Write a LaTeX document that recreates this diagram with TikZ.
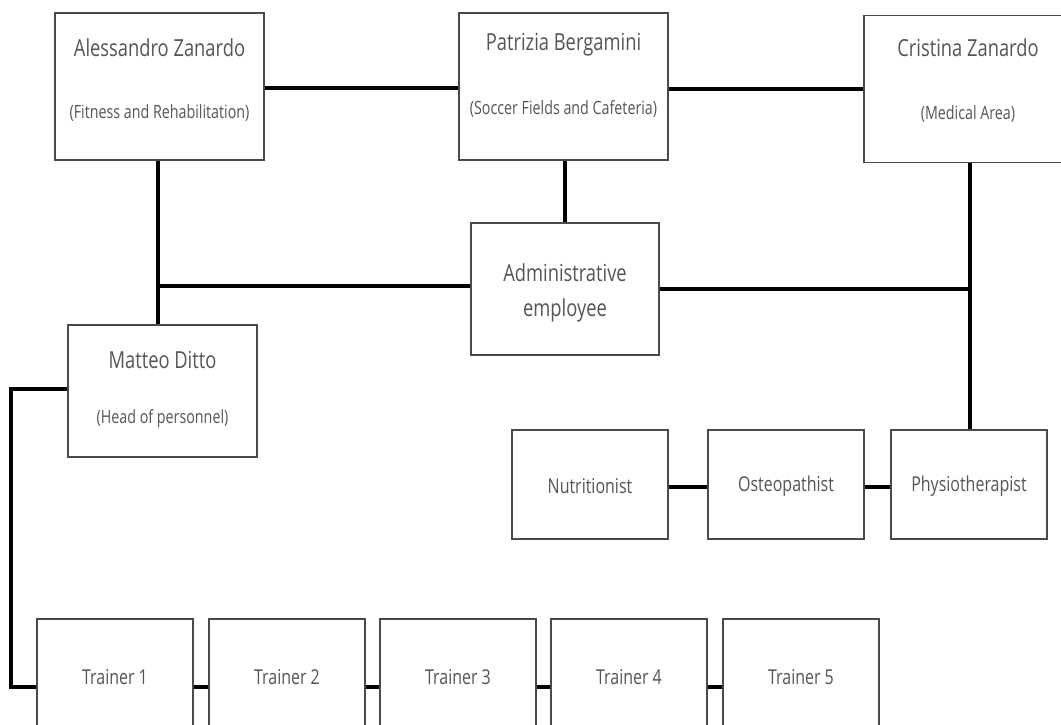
\documentclass[tikz,border=0pt]{standalone}
\usepackage{fontspec}
\setmainfont[FakeStretch=0.78]{Open Sans}
\usetikzlibrary{calc}
\definecolor{txtgray}{HTML}{555555}
\definecolor{boxgray}{HTML}{4A4A4A}
\tikzset{
  orgbox/.style={draw=boxgray, line width=1.8pt, fill=white, inner sep=0pt},
  bigbox/.style={orgbox, minimum width=209pt, minimum height=147pt},
  midbox/.style={orgbox, minimum width=188.5pt, minimum height=132pt},
  smallbox/.style={orgbox, minimum width=156pt, minimum height=109pt},
  trainbox/.style={orgbox, minimum width=156pt, minimum height=150pt},
  nmtxt/.style={text=txtgray, inner sep=0pt, font=\fontsize{23.5}{27}\selectfont},
  subtxt/.style={text=txtgray, inner sep=0pt, font=\fontsize{18.3}{21}\selectfont},
  smtxt/.style={text=txtgray, inner sep=0pt, font=\fontsize{20.5}{24}\selectfont},
  link/.style={line width=3.6pt, black},
}
\begin{document}
\begin{tikzpicture}[x=1pt, y=-1pt]
\useasboundingbox (0,0) rectangle (1061,724);
\clip (0,0) rectangle (1061,724);
\fill[white] (0,0) rectangle (1061,724);

% top row
\node[bigbox] (A) at (159.5,86.5) {};
\node[bigbox] (P) at (563.5,86.5) {};
\node[bigbox] (C) at (968.5,89) {};
\node[nmtxt] (An) at (159.5,48) {Alessandro Zanardo};
\node[subtxt]  (As) at (159.5,113) {(Fitness and Rehabilitation)};
\node[nmtxt] (Pn) at (563.5,45) {Patrizia Bergamini};
\node[subtxt]  (Ps) at (563.5,109) {(Soccer Fields and Cafeteria)};
\node[nmtxt] (Cn) at (968,48) {Cristina Zanardo};
\node[subtxt]  (Cs) at (968,114) {(Medical Area)};

% admin
\node[midbox] (Ad) at (565,289) {};
\node[nmtxt] (Ad1) at (565,273) {Administrative};
\node[nmtxt] (Ad2) at (565,310) {employee};

% Matteo
\node[midbox] (M) at (162.5,391) {};
\node[nmtxt] (Mn) at (162.5,360) {Matteo Ditto};
\node[subtxt]  (Ms) at (162.5,419) {(Head of personnel)};

% medical staff
\node[smallbox] (N)  at (590,484.5) {};
\node[smallbox] (O)  at (786,484.5) {};
\node[smallbox] (Ph) at (969,484.5) {};
\node[smtxt] (Nt)  at (590,486) {Nutritionist};
\node[smtxt] (Ot)  at (786,486) {Osteopathist};
\node[smtxt] (Pht) at (969,486) {Physiotherapist};

% trainers
\foreach \i/\x in {1/115,2/287,3/458,4/629,5/801}{
  \node[trainbox] (T\i) at (\x,694) {};
  \node[smtxt] (T\i t) at (\x,677) {Trainer \i};
}

% connectors
\coordinate (apy) at (0,88);
\coordinate (pcy) at (0,89);
\draw[link] (A.east |- apy) -- (P.west |- apy);
\draw[link] (P.east |- pcy) -- (C.west |- pcy);
\draw[link] (P.south -| Ad.north) -- (Ad.north);
\coordinate (ax) at (158,0);
\coordinate (cx) at (970,0);
\draw[link] (A.south -| ax) -- (M.north -| ax);
\coordinate (ady) at (0,286);
\draw[link] (Ad.west |- ady) -- (ax |- ady);
\coordinate (ady2) at (0,289);
\draw[link] (Ad.east |- ady2) -- (cx |- ady2);
\draw[link] (C.south -| cx) -- (Ph.north -| cx);
\coordinate (my) at (0,389);
\coordinate (ty) at (0,687);
\coordinate (lx) at (11,0);
\draw[link] (M.west |- my) -- (lx |- my) -- (lx |- ty) -- (T1.west |- ty);
\coordinate (ny) at (0,487);
\draw[link] (N.east |- ny) -- (O.west |- ny);
\draw[link] (O.east |- ny) -- (Ph.west |- ny);
\draw[link] (T1.east |- ty) -- (T2.west |- ty);
\draw[link] (T2.east |- ty) -- (T3.west |- ty);
\draw[link] (T3.east |- ty) -- (T4.west |- ty);
\draw[link] (T4.east |- ty) -- (T5.west |- ty);
\end{tikzpicture}
\end{document}
